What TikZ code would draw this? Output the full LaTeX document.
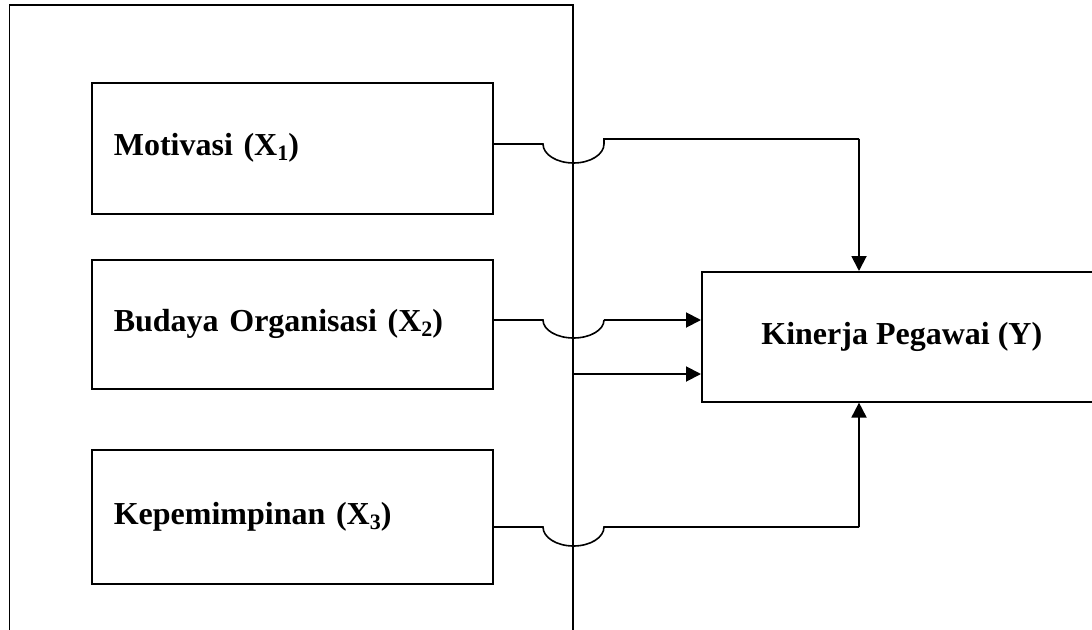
\documentclass[tikz,border=0pt]{standalone}
\usepackage{fontspec}
\setmainfont{Liberation Serif}
\usetikzlibrary{arrows.meta}
\newcommand{\mysub}[1]{\raisebox{-0.15em}{\fontsize{22}{22}\selectfont #1}}
\begin{document}
\begin{tikzpicture}[x=1pt,y=-1pt,line width=1.6pt,
  lbl/.style={font=\fontsize{32}{38}\selectfont\bfseries},
  varbox/.style={draw,lbl,text width=357pt,inner xsep=22pt,inner ysep=0pt,align=left,anchor=north west},
  arr/.style={-{Triangle[length=15pt,width=15pt]},line width=1.9pt}]
\clip (0,0) rectangle (1092,629);
% outer frame
\draw (9.5,640) -- (9.5,5) -- (573,5) -- (573,640);
% boxes
\node[varbox,minimum height=131pt] (m) at (91,82) {Motivasi (X\mysub{1})};
\node[varbox,minimum height=129pt] (b) at (91,259) {Budaya Organisasi (X\mysub{2})};
\node[varbox,minimum height=134pt] (k) at (91,449) {Kepemimpinan (X\mysub{3})};
\node[draw,lbl,minimum width=400pt,minimum height=130pt,inner sep=0pt,anchor=north west] (y) at (701,271) {Kinerja Pegawai (Y)};
% coordinates
\coordinate (j1a) at (543,144);
\coordinate (j1c) at (604,139);
\coordinate (t1) at (859,139);
\coordinate (j2a) at (543,320);
\coordinate (j2b) at (604,320);
\coordinate (s) at (573,374);
\coordinate (j3a) at (543,527);
\coordinate (t3) at (859,527);
% connectors
\draw (m.east |- j1a) -- (j1a) arc[start angle=180,end angle=360,x radius=30.5pt,y radius=19pt] -- (j1c) -- (t1);
\draw[arr] (t1) -- (t1 |- y.north);
\draw (b.east |- j2a) -- (j2a) arc[start angle=180,end angle=360,x radius=30.5pt,y radius=18pt];
\draw[arr] (j2b) -- (j2b -| y.west);
\draw[arr] (s) -- (s -| y.west);
\draw (k.east |- j3a) -- (j3a) arc[start angle=180,end angle=360,x radius=30.5pt,y radius=19pt] -- (t3);
\draw[arr] (t3) -- (t3 |- y.south);
\end{tikzpicture}
\end{document}
